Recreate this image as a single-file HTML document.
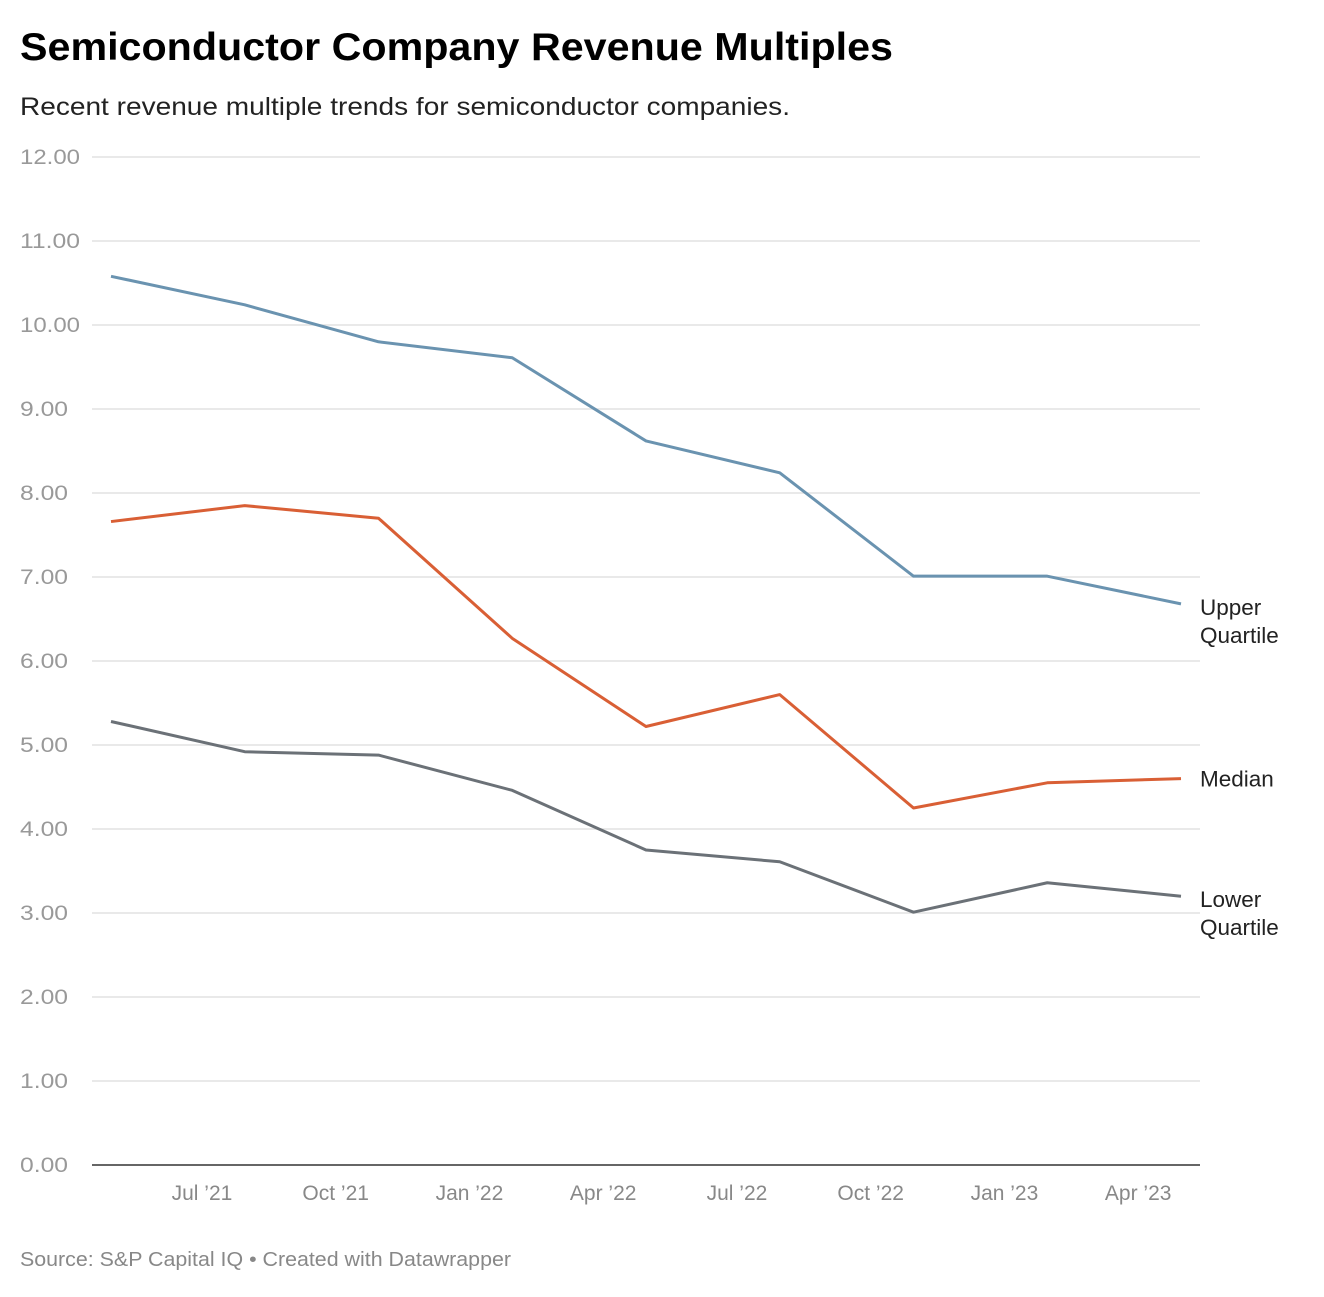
<!DOCTYPE html>
<html><head><meta charset="utf-8"><style>
body{margin:0;background:#fff;font-family:"Liberation Sans",Arial,sans-serif;}
#c{position:relative;width:1324px;height:1292px;}
</style></head><body>
<div id="c">
<svg width="1324" height="1292" id="svg">
<text x="20" y="60" font-size="39" font-weight="bold" fill="#000" textLength="873" lengthAdjust="spacingAndGlyphs">Semiconductor Company Revenue Multiples</text>
<text x="20" y="115" font-size="25" fill="#222" textLength="770" lengthAdjust="spacingAndGlyphs">Recent revenue multiple trends for semiconductor companies.</text>
<text x="20" y="1266" font-size="20" fill="#888" textLength="491" lengthAdjust="spacingAndGlyphs">Source: S&amp;P Capital IQ • Created with Datawrapper</text>
<g id="grid"></g><g id="lines"></g>
</svg></div>
<script>
const yTicks=[0,1,2,3,4,5,6,7,8,9,10,11,12];
const xLabels=["Jul ’21","Oct ’21","Jan ’22","Apr ’22","Jul ’22","Oct ’22","Jan ’23","Apr ’23"];
const upper=[10.58,10.24,9.80,9.61,8.62,8.24,7.01,7.01,6.68];
const median=[7.66,7.85,7.70,6.27,5.22,5.60,4.25,4.55,4.60];
const lower=[5.28,4.92,4.88,4.46,3.75,3.61,3.01,3.36,3.20];
const NS="http://www.w3.org/2000/svg";
const y=v=>1165-v*84;
const x=i=>111+i*133.75;
const grid=document.getElementById('grid'),lines=document.getElementById('lines');
function mk(tag,at,par){const e=document.createElementNS(NS,tag);for(const k in at)e.setAttribute(k,at[k]);par.appendChild(e);return e;}
yTicks.forEach(v=>{
 const l=mk('line',{x1:92,x2:1200,y1:y(v),y2:y(v),stroke:v===0?'#333':'#e2e2e2','stroke-width':1.5},grid);
 
 
 const t=mk('text',{x:20,y:y(v)+7,'font-size':21,fill:'#999',textLength:(v>=10?60:48),lengthAdjust:'spacingAndGlyphs'},grid);t.textContent=v.toFixed(2);
 
 
});
xLabels.forEach((s,i)=>{
 const t=mk('text',{x:x(i+0.68),y:1200,'font-size':21,fill:'#888','text-anchor':'middle'},grid);t.textContent=s;
 
 
});
const series=[[upper,'#6a93b0',['Upper','Quartile'],'upper-quartile-line'],[median,'#d95f35',['Median'],'median-line'],[lower,'#6b7177',['Lower','Quartile'],'lower-quartile-line']];
series.forEach(([d,c,lab,nm])=>{
 const p=mk('path',{d:d.map((v,i)=>(i?'L':'M')+x(i)+','+y(v)).join(''),fill:'none',stroke:c,'stroke-width':3,'stroke-linejoin':'round'},lines);
 
 
 const last=d[d.length-1];
 const t=mk('text',{x:1200,'font-size':22.5,fill:'#222'},lines);
 
 
 lab.forEach((s,k)=>{const ts=mk('tspan',{x:1200,y:y(last)+11+k*28-(lab.length>1?0:3)},t);ts.textContent=s;});
});
</script></body></html>
